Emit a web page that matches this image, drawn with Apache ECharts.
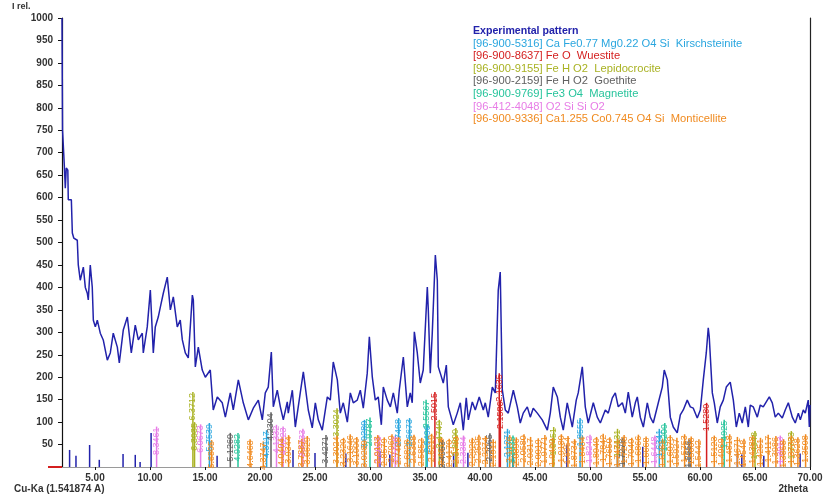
<!DOCTYPE html>
<html>
<head>
<meta charset="utf-8">
<script src="https://cdn.jsdelivr.net/npm/echarts@6.0.0/dist/echarts.min.js"></script>
<style>html,body{margin:0;padding:0;background:#fff}#c{width:826px;height:502px}</style>
</head>
<body>
<div id="c"></div>
<script>
// ---- data ----
const xTicks = [5,10,15,20,25,30,35,40,45,50,55,60,65,70];
const wavelength = 1.541874;

const expPattern = [
[2.00,1000],[2.03,846],[2.05,750],[2.16,750],[2.21,672],[2.30,621],[2.39,666],[2.53,661],[2.57,595],[2.85,595],[2.94,521],[3.07,510],[3.39,505],[3.48,450],[3.66,416],[3.80,412],[3.94,445],[4.12,400],[4.30,387],[4.39,372],[4.57,450],[4.75,401],[4.85,327],[5.03,312],[5.21,327],[5.48,298],[5.75,283],[6.12,238],[6.39,254],[6.66,298],[7.03,267],[7.21,232],[7.57,305],[7.94,334],[8.30,254],[8.66,316],[8.94,283],[9.30,298],[9.39,254],[9.75,312],[10.03,394],[10.30,254],[10.48,312],[10.75,334],[10.94,356],[11.21,387],[11.57,423],[11.85,350],[12.12,379],[12.48,312],[12.75,327],[12.94,283],[13.21,254],[13.48,243],[13.85,383],[13.94,372],[14.12,223],[14.39,267],[14.75,216],[15.03,200],[15.48,216],[15.75,127],[16.12,156],[16.57,143],[16.85,111],[17.30,165],[17.57,127],[18.03,194],[18.48,143],[18.94,105],[19.39,131],[19.85,149],[20.21,105],[20.48,165],[20.75,178],[21.03,256],[21.21,134],[21.57,171],[21.85,134],[22.12,105],[22.48,145],[22.57,120],[22.94,171],[23.21,89],[23.66,165],[23.94,212],[24.12,178],[24.39,127],[24.75,87],[25.03,143],[25.30,105],[25.66,82],[26.12,156],[26.39,149],[26.66,234],[27.03,194],[27.30,120],[27.57,143],[27.94,100],[28.21,165],[28.48,143],[28.84,149],[29.12,171],[29.39,131],[29.75,209],[29.94,290],[30.21,200],[30.48,149],[30.75,156],[31.03,94],[31.21,178],[31.57,149],[31.85,134],[32.12,165],[32.48,120],[32.66,171],[33.03,245],[33.39,134],[33.66,165],[33.84,143],[34.03,301],[34.30,254],[34.57,187],[34.84,216],[35.21,401],[35.30,350],[35.48,209],[35.66,298],[35.94,472],[36.12,416],[36.21,223],[36.39,209],[36.66,187],[36.94,227],[37.12,134],[37.57,94],[37.93,120],[38.21,143],[38.48,82],[38.75,154],[38.94,105],[39.30,145],[39.57,127],[39.93,156],[40.30,127],[40.48,143],[40.75,111],[41.12,178],[41.39,165],[41.66,394],[41.84,434],[42.03,171],[42.30,127],[42.57,120],[43.03,171],[43.39,134],[43.66,98],[43.93,120],[44.30,134],[44.57,111],[44.84,131],[45.21,120],[45.66,105],[46.12,82],[46.39,120],[46.66,178],[47.03,156],[47.30,111],[47.57,82],[47.93,143],[48.39,89],[48.75,149],[48.93,165],[49.30,223],[49.57,134],[49.84,98],[50.30,143],[50.66,111],[50.94,98],[51.39,127],[51.66,120],[52.03,154],[52.30,165],[52.57,134],[52.94,143],[53.21,120],[53.48,167],[53.84,111],[54.12,143],[54.30,156],[54.57,111],[54.85,89],[55.21,143],[55.48,111],[55.75,98],[56.21,143],[56.57,178],[56.75,216],[57.03,194],[57.30,111],[57.57,89],[57.93,76],[58.21,116],[58.48,127],[58.84,149],[59.12,134],[59.39,131],[59.75,109],[60.03,127],[60.30,194],[60.57,254],[60.75,310],[60.84,290],[61.12,165],[61.30,143],[61.57,98],[61.84,134],[62.12,149],[62.39,178],[62.75,189],[63.03,149],[63.30,89],[63.57,120],[63.84,98],[64.12,134],[64.39,89],[64.57,138],[64.84,134],[65.21,111],[65.48,138],[65.75,134],[66.12,149],[66.30,156],[66.57,143],[66.84,111],[67.12,120],[67.48,109],[67.75,127],[68.03,143],[68.39,111],[68.66,98],[68.94,120],[69.12,105],[69.39,127],[69.57,120],[69.84,149],[69.94,89],[70.00,138]
];

const expPeaks = [[2.69,38],[3.27,25],[4.51,49],[5.39,16],[7.55,29],[8.66,27],[9.10,11],[10.10,76],[16.1,25],[23.0,38],[25.0,31],[27.8,30],[30.9,35],[31.8,28],[37.6,30],[38.9,32],[43.0,28],[47.9,50],[52.5,30],[54.8,45],[63.4,30],[63.8,28],[65.8,25],[69.1,30]];
const kirschsteinite = [[15.4,98],[20.6,82],[29.5,105],[32.6,109],[33.6,109],[35.2,95],[42.5,85],[49.1,109],[56.3,85]];
const wuestite = [[35.9,167],[41.75,209],[41.85,148],[60.6,143]];
const lepidocrocite = [[13.9,167],[14.05,100],[27.0,131],[36.3,105],[37.8,87],[46.7,89],[52.5,85],[65.0,80],[68.3,80]];
const goethite = [[17.3,76],[21.0,122],[26.0,71],[36.6,60],[40.9,75],[53.0,65],[59.0,62]];
const magnetite = [[18.0,76],[30.0,110],[35.1,150],[43.0,70],[56.8,98],[62.2,105]];
const silica = [[10.6,90],[14.6,95],[21.5,94],[22.1,90],[23.9,85],[30.8,70],[32.3,70],[38.5,70],[50.0,72],[55.9,70],[67.3,70]];
const monticellite = [[15.6,60],[19.1,62],[20.3,57],[22.0,66],[22.6,71],[23.8,63],[24.3,69],[27.0,70],[27.6,65],[28.2,73],[28.8,67],[29.5,62],[30.7,71],[31.3,66],[32.0,73],[32.6,68],[33.4,63],[34.0,72],[34.7,65],[35.6,74],[36.5,67],[37.2,63],[37.9,70],[39.3,65],[39.9,72],[40.5,69],[41.2,62],[42.7,71],[43.3,66],[44.0,73],[44.6,67],[45.3,64],[45.9,71],[46.6,65],[47.4,73],[48.0,69],[48.6,62],[49.3,70],[50.6,67],[51.2,74],[51.8,66],[52.5,63],[53.1,71],[53.8,65],[54.4,72],[55.1,68],[56.6,63],[57.3,71],[57.9,65],[58.6,73],[59.2,68],[59.9,62],[61.3,70],[62.0,66],[62.7,73],[63.4,67],[64.0,63],[64.8,71],[65.5,65],[66.2,72],[66.9,69],[67.6,62],[68.3,70],[68.9,66],[69.6,73]];

const phases = [
  {name:'[96-900-5316] Ca Fe0.77 Mg0.22 O4 Si  Kirschsteinite', color:'#2aa6df', data:kirschsteinite},
  {name:'[96-900-8637] Fe O  Wuestite', color:'#d41f1f', data:wuestite},
  {name:'[96-900-9155] Fe H O2  Lepidocrocite', color:'#a9b223', data:lepidocrocite},
  {name:'[96-900-2159] Fe H O2  Goethite', color:'#606060', data:goethite},
  {name:'[96-900-9769] Fe3 O4  Magnetite', color:'#27c49c', data:magnetite},
  {name:'[96-412-4048] O2 Si Si O2', color:'#e77de6', data:silica},
  {name:'[96-900-9336] Ca1.255 Co0.745 O4 Si  Monticellite', color:'#f08a1f', data:monticellite}
];
const expName = 'Experimental pattern';
const expColor = '#2222ab';

// ---- chart ----
const chart = echarts.init(document.getElementById('c'), null, {renderer:'canvas'});
const font = 'Liberation Sans, Arial, sans-serif';
function dLabel(p){
  const t = p.value[0] * Math.PI / 360;
  return (wavelength / (2 * Math.sin(t))).toFixed(4);
}
const series = [
  {name:expName, type:'line', data:expPattern, showSymbol:false, symbol:'none',
   lineStyle:{color:expColor, width:1.5}, itemStyle:{color:expColor}, z:3, animation:false},
  {name:expName, type:'bar', data:expPeaks, barWidth:1.5, barGap:'-100%',
   itemStyle:{color:expColor}, z:4, animation:false}
];
phases.forEach(ph => {
  series.push({
    name:ph.name, type:'bar', data:ph.data, barWidth:1.5, barGap:'-100%',
    itemStyle:{color:ph.color}, z:5, animation:false,
    label:{show:true, position:'insideTop', rotate:90, align:'right', verticalAlign:'middle',
      distance:1, formatter:dLabel, color:ph.color, fontSize:9, fontFamily:font}
  });
});

chart.setOption({
  animation:false,
  backgroundColor:'#ffffff',
  title:[
    {text:'Cu-Ka (1.541874 A)', left:14, top:484, padding:0,
     textStyle:{fontSize:10, fontWeight:'bold', color:'#333', fontFamily:font}},
    {text:'I rel.', left:12, top:2, padding:0,
     textStyle:{fontSize:9, fontWeight:'bold', color:'#333', fontFamily:font}}
  ],
  legend:{
    orient:'vertical', left:463, top:20, itemWidth:0, itemHeight:10, itemGap:0.6,
    selectedMode:false, icon:'none',
    textStyle:{fontSize:11.2, lineHeight:12, fontFamily:font},
    data:[{name:expName, textStyle:{color:expColor, fontWeight:'bold', fontSize:10.6}}]
      .concat(phases.map(ph => ({name:ph.name, textStyle:{color:ph.color}})))
  },
  grid:{left:62, right:16, top:18, bottom:35},
  xAxis:[
    {type:'value', min:2, max:70,
     name:'2theta', nameLocation:'end', nameGap:-2,
     nameTextStyle:{align:'right', verticalAlign:'top', padding:[17,0,0,0], fontSize:10, fontWeight:'bold', color:'#333', fontFamily:font},
     axisLine:{show:true, lineStyle:{color:'#111', width:1.2}},
     axisTick:{show:true, length:3, customValues:xTicks, lineStyle:{color:'#111'}},
     axisLabel:{customValues:xTicks, formatter:v => v.toFixed(2), fontSize:10, fontWeight:'bold', color:'#333', margin:6, fontFamily:font},
     splitLine:{show:false}},
    {type:'value', min:2, max:70, position:'top',
     axisLine:{show:true, lineStyle:{color:'#9a9a9a', width:1.2}},
     axisTick:{show:false}, axisLabel:{show:false}, splitLine:{show:false}}
  ],
  yAxis:[
    {type:'value', min:0, max:1000, interval:50,
     axisLine:{show:true, lineStyle:{color:'#111', width:1.2}},
     axisTick:{show:true, length:4, lineStyle:{color:'#111'}},
     axisLabel:{fontSize:10, fontWeight:'bold', color:'#333', margin:9, fontFamily:font,
       formatter:v => (v === 0 ? '' : String(v))},
     splitLine:{show:false}},
    {type:'value', min:0, max:1000, position:'right',
     axisLine:{show:true, lineStyle:{color:'#222', width:1.2}},
     axisTick:{show:false}, axisLabel:{show:false}, splitLine:{show:false}}
  ],
  series:series
});

// small red baseline stub left of the origin
const o = chart.convertToPixel({xAxisIndex:0, yAxisIndex:0}, [2, 0]);
chart.setOption({graphic:[{type:'line', shape:{x1:o[0]-14, y1:o[1], x2:o[0], y2:o[1]},
  style:{stroke:'#d41f1f', lineWidth:2}, z:10}]});
</script>
</body>
</html>
